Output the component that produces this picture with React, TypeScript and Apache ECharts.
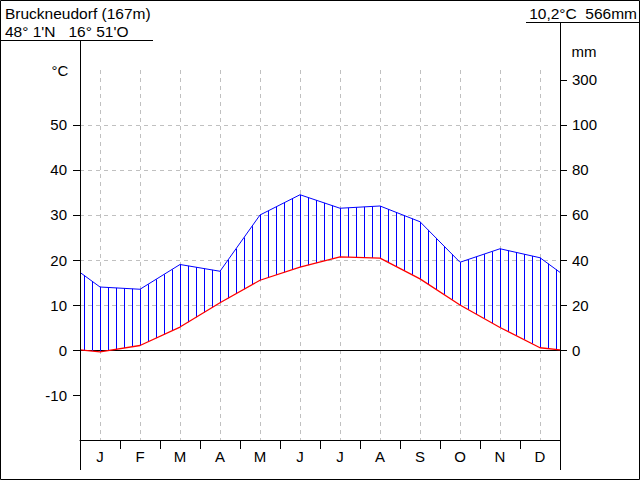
import React, { useEffect, useRef } from "react";
import * as echarts from "echarts";

const STATION = "Bruckneudorf (167m)";
const COORDS = "48° 1'N   16° 51'O";
const SUMMARY = "10,2°C  566mm";
const MONTHS = ["J", "F", "M", "A", "M", "J", "J", "A", "S", "O", "N", "D"];
const TEMP = [-0.4, 1.0, 5.1, 10.5, 15.5, 18.4, 20.7, 20.4, 15.8, 10.0, 5.0, 0.5];
const PREC = [28, 27, 38, 35, 60, 69, 63, 64, 57, 39, 45, 41];
const TEMP_TICKS = [-10, 0, 10, 20, 30, 40, 50];
const GRID_TICKS = [-10, 0, 10, 20, 30, 40, 50, 60];
const MM_TICKS = [0, 20, 40, 60, 80, 100, 300];

const FONT = "'Liberation Sans', Arial, Helvetica, sans-serif";
const HATCH_START = 0.1;
const HATCH_STEP = 0.2;

// Walter-Lieth scale: 10 °C = 20 mm up to 100 mm, then 10 °C = 200 mm
const mmToScale = (mm: number) => (mm <= 100 ? mm / 2 : 50 + (mm - 100) / 20);
const scaleToMm = (v: number) => (v <= 50 ? v * 2 : 100 + (v - 50) * 20);

const withEnds = (vals: number[]) => {
  const edge = (vals[0] + vals[vals.length - 1]) / 2;
  return [[0, edge], ...vals.map((v, i) => [i + 0.5, v]), [vals.length, edge]];
};

const interp = (pts: number[][], x: number) => {
  for (let i = 0; i < pts.length - 1; i++) {
    const [x0, y0] = pts[i];
    const [x1, y1] = pts[i + 1];
    if (x >= x0 && x <= x1) return y0 + ((y1 - y0) * (x - x0)) / (x1 - x0);
  }
  return pts[pts.length - 1][1];
};

export default function App() {
  const ref = useRef<HTMLDivElement>(null);
  useEffect(() => {
    if (!ref.current) return;
    const chart = echarts.init(ref.current, null, { renderer: "svg" });
    const tempPts = withEnds(TEMP);
    const precPts = withEnds(PREC.map(mmToScale));
    const n = MONTHS.length;
    const Y_MIN = -20;
    const Y_MAX = 62.2222;

    const option: any = {
      animation: false,
      backgroundColor: "#ffffff",
      textStyle: { fontFamily: FONT, fontSize: 15, color: "#000" },
      grid: { left: 80, right: 80, top: 70, bottom: 40, containLabel: false },
      xAxis: {
        type: "value",
        min: 0,
        max: n,
        interval: 1,
        axisLine: { show: true, onZero: false, lineStyle: { color: "#000", width: 1 } },
        axisTick: {
          show: true,
          length: 9,
          customValues: MONTHS.slice(1).map((_, i) => i + 1),
          lineStyle: { color: "#000" },
        },
        axisLabel: {
          customValues: MONTHS.map((_, i) => i + 0.5),
          formatter: (v: number) => MONTHS[Math.floor(v)] ?? "",
          color: "#000",
          fontSize: 15,
          fontFamily: FONT,
          margin: 9,
        },
        splitLine: { show: false },
      },
      yAxis: [
        {
          type: "value",
          position: "left",
          min: Y_MIN,
          max: Y_MAX,
          interval: 10,
          axisLine: { show: false },
          axisTick: {
            show: true,
            length: 7,
            customValues: TEMP_TICKS,
            lineStyle: { color: "#000" },
          },
          axisLabel: {
            customValues: TEMP_TICKS,
            color: "#000",
            fontSize: 15,
            fontFamily: FONT,
            margin: 13,
          },
          splitLine: { show: false },
        },
        {
          type: "value",
          position: "right",
          min: Y_MIN,
          max: Y_MAX,
          interval: 10,
          axisLine: { show: false },
          axisTick: {
            show: true,
            length: 7,
            customValues: MM_TICKS.map(mmToScale),
            lineStyle: { color: "#000" },
          },
          axisLabel: {
            customValues: MM_TICKS.map(mmToScale),
            formatter: (v: number) => String(Math.round(scaleToMm(v))),
            color: "#000",
            fontSize: 15,
            fontFamily: FONT,
            margin: 12,
          },
          splitLine: { show: false },
        },
        {
          type: "value",
          position: "left",
          min: Y_MIN,
          max: Y_MAX,
          interval: 10,
          show: true,
          axisLine: { show: false },
          axisTick: { show: false, customValues: GRID_TICKS },
          axisLabel: { show: false, customValues: GRID_TICKS },
          splitLine: {
            show: true,
            showMinLine: false,
            showMaxLine: false,
            lineStyle: { color: "#c0c0c0", type: [4, 4], width: 1 },
          },
        },
      ],
      series: [
        {
          type: "custom",
          z: 1,
          silent: true,
          clip: false,
          data: [[0, 0]],
          renderItem: (params: any, api: any) => {
            const cs = params.coordSys;
            const children: any[] = [];
            MONTHS.forEach((_, i) => {
              const px = Math.round(api.coord([i + 0.5, 0])[0]) + 0.5;
              children.push({
                type: "line",
                shape: { x1: px, y1: cs.y, x2: px, y2: cs.y + cs.height },
                style: { stroke: "#c0c0c0", lineWidth: 1, lineDash: [4, 4] },
              });
            });
            const zy = Math.round(api.coord([0, 0])[1]) + 0.5;
            children.push({
              type: "line",
              shape: { x1: cs.x, y1: zy, x2: cs.x + cs.width, y2: zy },
              style: { stroke: "#000", lineWidth: 1 },
            });
            for (let k = 0; ; k++) {
              const x = HATCH_START + HATCH_STEP * k;
              if (x >= n) break;
              const t = interp(tempPts, x);
              const p = interp(precPts, x);
              if (p > t) {
                const a = api.coord([x, t]);
                const b = api.coord([x, p]);
                const px = Math.round(a[0]) + 0.5;
                children.push({
                  type: "line",
                  shape: { x1: px, y1: a[1], x2: px, y2: b[1] },
                  style: { stroke: "#0000ff", lineWidth: 1 },
                });
              }
            }
            return { type: "group", children };
          },
        },
        {
          type: "line",
          z: 2,
          data: precPts,
          showSymbol: false,
          symbol: "none",
          lineStyle: { color: "#0000ff", width: 1 },
          silent: true,
        },
        {
          type: "line",
          z: 3,
          data: tempPts,
          showSymbol: false,
          symbol: "none",
          lineStyle: { color: "#ff0000", width: 1.3 },
          silent: true,
        },
      ],
      graphic: [
        {
          type: "rect",
          shape: { x: 0.5, y: 0.5, width: 639, height: 479 },
          style: { fill: "none", stroke: "#000", lineWidth: 1 },
          silent: true,
        },
        {
          type: "text",
          x: 5,
          y: 13.5,
          style: { text: STATION, font: `15.5px ${FONT}`, fill: "#000", verticalAlign: "middle", align: "left" },
        },
        {
          type: "text",
          x: 5,
          y: 31.5,
          style: { text: COORDS, font: `15.5px ${FONT}`, fill: "#000", verticalAlign: "middle", align: "left" },
        },
        {
          type: "line",
          shape: { x1: 0, y1: 40.5, x2: 153, y2: 40.5 },
          style: { stroke: "#000", lineWidth: 1 },
        },
        {
          type: "text",
          x: 637,
          y: 13,
          style: { text: SUMMARY, font: `15.5px ${FONT}`, fill: "#000", verticalAlign: "middle", align: "right" },
        },
        {
          type: "line",
          shape: { x1: 526, y1: 22.5, x2: 640, y2: 22.5 },
          style: { stroke: "#000", lineWidth: 1 },
        },
        {
          type: "line",
          shape: { x1: 80.5, y1: 40, x2: 80.5, y2: 470 },
          style: { stroke: "#000", lineWidth: 1 },
          z: 10,
        },
        {
          type: "line",
          shape: { x1: 560.5, y1: 22, x2: 560.5, y2: 470 },
          style: { stroke: "#000", lineWidth: 1 },
          z: 10,
        },
        {
          type: "text",
          x: 60,
          y: 70,
          style: { text: "°C", font: `15px ${FONT}`, fill: "#000", verticalAlign: "middle", align: "center" },
        },
        {
          type: "text",
          x: 584,
          y: 51,
          style: { text: "mm", font: `15px ${FONT}`, fill: "#000", verticalAlign: "middle", align: "center" },
        },
      ],
    };
    chart.setOption(option);
    return () => chart.dispose();
  }, []);
  return (
    <div
      ref={ref}
      style={{ position: "absolute", left: 0, top: 0, width: 640, height: 480 }}
    />
  );
}
